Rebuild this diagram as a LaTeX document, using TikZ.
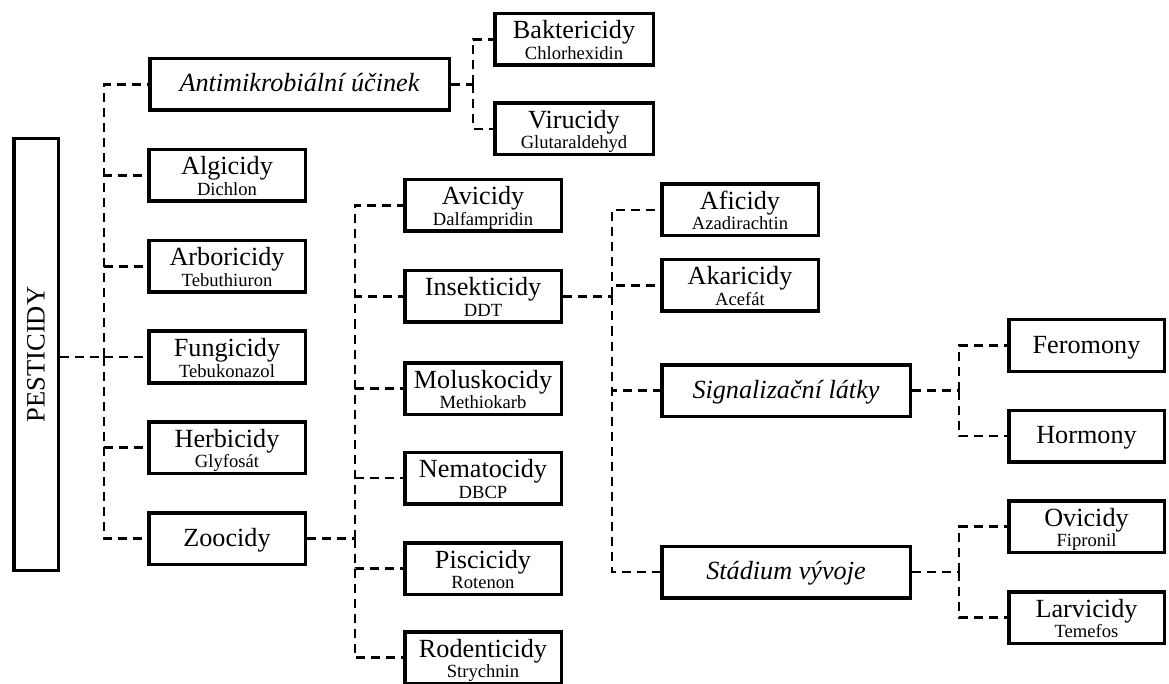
\documentclass[tikz,border=0pt]{standalone}
\usepackage{fontspec}
\setmainfont{Liberation Serif}
\begin{document}
\begin{tikzpicture}[x=1pt,y=-1pt,
  box/.style={draw=black, line width=3.5pt, fill=white, inner sep=0pt, minimum height=51.5pt, minimum width=156.5pt},
  widebox/.style={box, minimum width=248.5pt},
  maintext/.style={anchor=base, inner sep=0pt, font=\fontsize{26.2}{30}\selectfont},
  subtext/.style={anchor=base, inner sep=0pt, font=\fontsize{18.6}{22}\selectfont},
  single/.style={font=\fontsize{26.2}{30}\selectfont, text height=18pt, text depth=3pt},
  conn/.style={line width=2.5pt, dash pattern=on 9pt off 6pt}]
\useasboundingbox (0,0) rectangle (1169,684);

% root
\node[box, minimum width=44.5pt, minimum height=431.5pt, font=\fontsize{26.5}{30}\selectfont] (pest) at (36,354.5) {\rotatebox{90}{PESTICIDY}};

% level 1
\node[box, single, minimum width=299.5pt] (anti) at (299.5,84.5) {\itshape Antimikrobiální účinek};
\node[box] (alg) at (227,175.5) {};
\node[maintext] (alg-t) at ([yshift=0.5pt]alg.center) {Algicidy};
\node[subtext] (alg-s) at ([yshift=-20pt]alg.center) {Dichlon};
\node[box] (arb) at (227,266.5) {};
\node[maintext] (arb-t) at ([yshift=0.5pt]arb.center) {Arboricidy};
\node[subtext] (arb-s) at ([yshift=-20pt]arb.center) {Tebuthiuron};
\node[box] (fun) at (227,357) {};
\node[maintext] (fun-t) at ([yshift=0.5pt]fun.center) {Fungicidy};
\node[subtext] (fun-s) at ([yshift=-20pt]fun.center) {Tebukonazol};
\node[box] (her) at (227,447.5) {};
\node[maintext] (her-t) at ([yshift=0.5pt]her.center) {Herbicidy};
\node[subtext] (her-s) at ([yshift=-20pt]her.center) {Glyfosát};
\node[box, single] (zoo) at (227,538.5) {Zoocidy};

% antimicrobial children
\node[box, minimum width=158.5pt] (bak) at (574,39.5) {};
\node[maintext] (bak-t) at ([yshift=0.5pt]bak.center) {Baktericidy};
\node[subtext] (bak-s) at ([yshift=-20pt]bak.center) {Chlorhexidin};
\node[box, minimum width=158.5pt] (vir) at (574,129) {};
\node[maintext] (vir-t) at ([yshift=0.5pt]vir.center) {Virucidy};
\node[subtext] (vir-s) at ([yshift=-20pt]vir.center) {Glutaraldehyd};

% zoocide children
\node[box] (avi) at (483,205.5) {};
\node[maintext] (avi-t) at ([yshift=0.5pt]avi.center) {Avicidy};
\node[subtext] (avi-s) at ([yshift=-20pt]avi.center) {Dalfampridin};
\node[box] (ins) at (483,296.5) {};
\node[maintext] (ins-t) at ([yshift=0.5pt]ins.center) {Insekticidy};
\node[subtext] (ins-s) at ([yshift=-20pt]ins.center) {DDT};
\node[box] (mol) at (483,388.5) {};
\node[maintext] (mol-t) at ([yshift=0.5pt]mol.center) {Moluskocidy};
\node[subtext] (mol-s) at ([yshift=-20pt]mol.center) {Methiokarb};
\node[box] (nem) at (483,478) {};
\node[maintext] (nem-t) at ([yshift=0.5pt]nem.center) {Nematocidy};
\node[subtext] (nem-s) at ([yshift=-20pt]nem.center) {DBCP};
\node[box] (pis) at (483,568.5) {};
\node[maintext] (pis-t) at ([yshift=0.5pt]pis.center) {Piscicidy};
\node[subtext] (pis-s) at ([yshift=-20pt]pis.center) {Rotenon};
\node[box] (rod) at (483,657.5) {};
\node[maintext] (rod-t) at ([yshift=0.5pt]rod.center) {Rodenticidy};
\node[subtext] (rod-s) at ([yshift=-20pt]rod.center) {Strychnin};

% insecticide children
\node[box] (afi) at (740,210) {};
\node[maintext] (afi-t) at ([yshift=0.5pt]afi.center) {Aficidy};
\node[subtext] (afi-s) at ([yshift=-20pt]afi.center) {Azadirachtin};
\node[box] (aka) at (740,285.5) {};
\node[maintext] (aka-t) at ([yshift=0.5pt]aka.center) {Akaricidy};
\node[subtext] (aka-s) at ([yshift=-20pt]aka.center) {Acefát};
\node[widebox, single] (sig) at (786,390.5) {\itshape Signalizační látky};
\node[widebox, single] (sta) at (786,572) {\itshape Stádium vývoje};

% right column
\node[box, single, minimum width=155.5pt] (fer) at (1086.5,345.5) {Feromony};
\node[box, single, minimum width=155.5pt] (hor) at (1086.5,436) {Hormony};
\node[box, minimum width=155.5pt] (ovi) at (1086.5,526.5) {};
\node[maintext] (ovi-t) at ([yshift=0.5pt]ovi.center) {Ovicidy};
\node[subtext] (ovi-s) at ([yshift=-20pt]ovi.center) {Fipronil};
\node[box, minimum width=155.5pt] (lar) at (1086.5,617.5) {};
\node[maintext] (lar-t) at ([yshift=0.5pt]lar.center) {Larvicidy};
\node[subtext] (lar-s) at ([yshift=-20pt]lar.center) {Temefos};

% junctions
\coordinate (j1) at (104,357);
\coordinate (j2) at (473,84.5);
\coordinate (j3) at (355,538.5);
\coordinate (j4) at (612,296.5);
\coordinate (j5) at (959,390.5);
\coordinate (j6) at (959,572);

% connectors
\draw[conn] (j1 -| pest.east) -- (j1);
\draw[conn] (j1) |- (anti.west);
\draw[conn] (j1) |- (alg.west);
\draw[conn] (j1) |- (arb.west);
\draw[conn] (j1) -- (fun.west);
\draw[conn] (j1) |- (her.west);
\draw[conn] (j1) |- (zoo.west);

\draw[conn] (anti.east) -- (j2);
\draw[conn] (j2) |- (bak.west);
\draw[conn] (j2) |- (vir.west);

\draw[conn] (zoo.east) -- (j3);
\draw[conn] (j3) |- (avi.west);
\draw[conn] (j3) |- (ins.west);
\draw[conn] (j3) |- (mol.west);
\draw[conn] (j3) |- (nem.west);
\draw[conn] (j3) |- (pis.west);
\draw[conn] (j3) |- (rod.west);

\draw[conn] (ins.east) -- (j4);
\draw[conn] (j4) |- (afi.west);
\draw[conn] (j4) |- (aka.west);
\draw[conn] (j4) |- (sig.west);
\draw[conn] (j4) |- (sta.west);

\draw[conn] (sig.east) -- (j5);
\draw[conn] (j5) |- (fer.west);
\draw[conn] (j5) |- (hor.west);

\draw[conn] (sta.east) -- (j6);
\draw[conn] (j6) |- (ovi.west);
\draw[conn] (j6) |- (lar.west);
\end{tikzpicture}
\end{document}
